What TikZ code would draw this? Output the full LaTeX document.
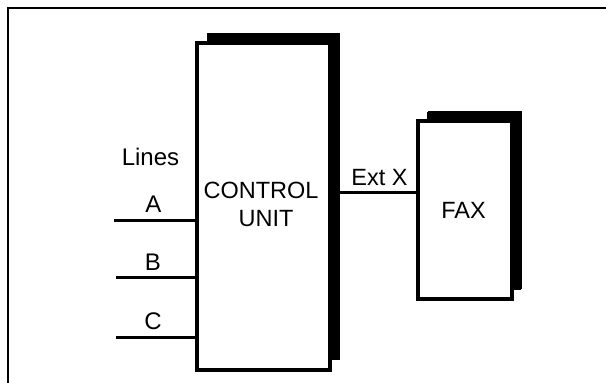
\documentclass[tikz,border=0pt]{standalone}
\usepackage{fontspec}
\setmainfont{Liberation Sans}
\usetikzlibrary{shadows}
\begin{document}
\begin{tikzpicture}[x=1pt,y=-1pt,
  unitbox/.style={draw, line width=3.5pt, fill=white, inner sep=0pt,
    general shadow={fill=black, shadow xshift=10pt, shadow yshift=10pt}},
  wire/.style={line width=3pt},
  frameline/.style={line width=2.5pt},
  bigtxt/.style={font=\fontsize{23.5}{28}\selectfont, inner sep=0pt, anchor=base},
  smalltxt/.style={font=\fontsize{24}{28}\selectfont, inner sep=0pt, anchor=base}]
\useasboundingbox (0,0) rectangle (606,383);
% frame
\coordinate (fbl) at (8,390);
\coordinate (ftl) at (8,8);
\coordinate (ftr) at (610,8);
\draw[frameline] (fbl) -- (ftl) -- (ftr);
% boxes
\node[unitbox, minimum width=133pt, minimum height=327pt] (cu) at (263.5,206.5) {};
\node[unitbox, minimum width=94pt, minimum height=178pt, general shadow={fill=black, shadow xshift=9pt, shadow yshift=9pt}] (fax) at (465,210) {};
% texts
\node[bigtxt] (t1) at (261,198.5) {CONTROL};
\node[bigtxt] (t2) at (266,226) {UNIT};
\node[bigtxt] (t3) at (463.5,218) {FAX};
\node[bigtxt] (t4) at (379.5,185) {Ext X};
\node[smalltxt] (lines) at (150.5,165) {Lines};
\node[smalltxt] (la) at (153.5,212) {A};
\node[smalltxt] (lb) at (153,270) {B};
\node[smalltxt] (lc) at (153,329) {C};
% wires
\coordinate (wa) at (114,220);
\coordinate (wb) at (116,277);
\coordinate (wc) at (116,337);
\coordinate (wx) at (330,192.5);
\draw[wire] (wa) -- (wa -| cu.west);
\draw[wire] (wb) -- (wb -| cu.west);
\draw[wire] (wc) -- (wc -| cu.west);
\draw[wire] (wx -| cu.east) -- (wx -| fax.west);
\end{tikzpicture}
\end{document}
